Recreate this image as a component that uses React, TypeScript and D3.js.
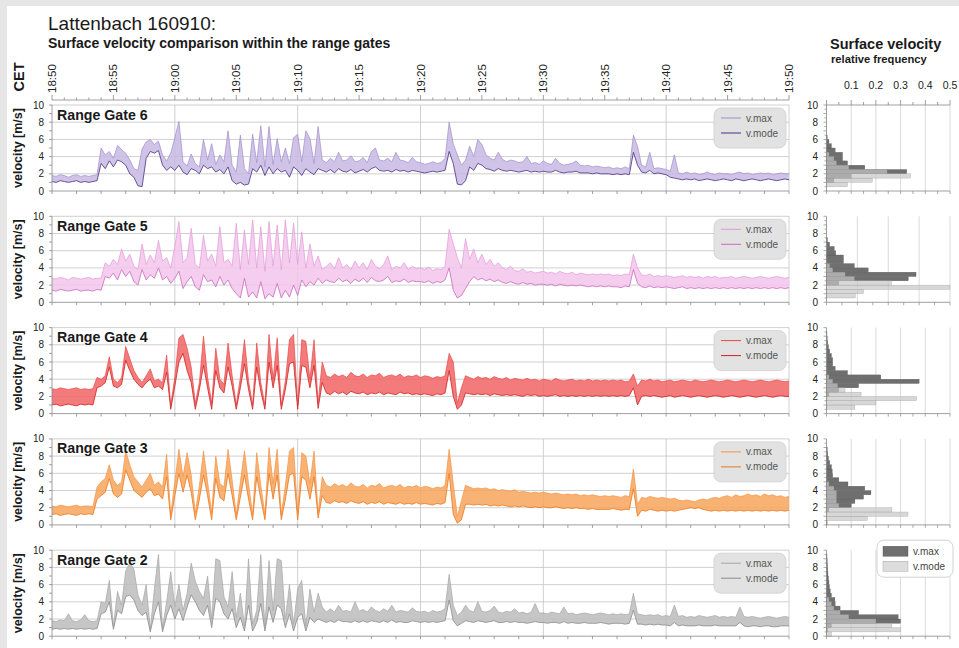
import * as d3 from 'd3';

// sample spacing of the time series: 20 s
const STEP_MIN = 1 / 3;

const TIME_LABELS = ['18:50', '18:55', '19:00', '19:05', '19:10', '19:15', '19:20', '19:25', '19:30', '19:35', '19:40', '19:45', '19:50'];
const TIME_TICKS = [0, 5, 10, 15, 20, 25, 30, 35, 40, 45, 50, 55, 60];
const V_TICKS = [0, 2, 4, 6, 8, 10];
const HIST_TICKS = [0.1, 0.2, 0.3, 0.4, 0.5];

// Range Gate 6
const G6_MAX = [
  1.8,1.7,1.9, 1.8,1.6,1.8, 1.9,1.7,1.8, 1.7,1.8,1.9, 5.0,4.2,4.6,
  3.8,5.3,4.8, 4.4,3.6,2.6, 2.4,4.9,5.7, 6.0,5.4,5.8, 4.2,3.5,4.4,
  6.2,8.1,3.4, 2.9,4.3,3.2, 2.8,6.0,3.6, 5.5,3.1,4.2, 3.4,7.0,3.0,
  2.2,6.5,2.6, 2.0,6.6,3.3, 7.6,2.8,7.5, 3.1,6.1,3.4, 5.0,3.2,6.2,
  6.6,3.4,7.0, 6.1,3.2,7.5, 3.6,3.3,3.8, 3.4,4.5,3.5, 3.6,4.1,3.4,
  3.5,3.9,3.3, 4.6,5.0,3.6, 3.5,3.8,3.4, 4.5,3.6,3.5, 3.3,3.9,3.4,
  3.3,3.1,3.2, 3.4,3.2,3.3, 3.8,8.0,5.5, 4.2,3.0,3.6, 5.2,4.0,6.0,
  5.4,4.2,3.8, 3.6,4.5,3.7, 3.4,3.6,3.5, 3.3,3.4,4.0, 3.2,3.3,3.1,
  3.5,3.2,3.1, 3.8,3.2,3.0, 3.1,3.2,3.5, 3.0,2.9,3.0, 2.8,2.9,2.8,
  2.7,2.8,2.6, 2.7,2.6,2.8, 2.6,6.5,5.2, 3.0,2.8,4.5, 2.6,2.7,2.6,
  2.5,2.3,4.2, 2.1,2.0,2.2, 2.0,2.1,1.9, 2.0,2.2,2.0, 1.9,2.1,2.0,
  2.0,1.9,2.1, 2.2,2.0,2.1, 1.9,2.0,2.1, 2.0,2.1,1.9, 2.0,2.1,2.0,
  2.0,
];
const G6_MODE = [
  1.1,1.0,1.2, 1.1,1.0,1.1, 1.2,1.0,1.1, 1.0,1.1,1.2, 3.2,2.6,3.5,
  2.8,3.6,3.4, 3.0,2.0,1.6, 0.6,0.5,3.8, 4.6,4.4,4.7, 3.0,2.4,2.8,
  2.4,3.0,2.2, 1.9,2.6,2.4, 2.0,3.0,2.6, 2.8,2.2,2.5, 2.0,2.8,1.2,
  0.8,1.0,0.7, 0.8,2.6,2.2, 3.0,1.8,2.8, 2.0,2.6,2.2, 2.4,1.6,2.8,
  2.4,1.8,2.6, 2.2,1.9,2.6, 2.4,2.2,2.5, 2.1,2.6,2.3, 2.2,2.5,2.1,
  2.3,2.5,2.2, 2.6,2.8,2.4, 2.3,2.4,2.2, 2.5,2.3,2.4, 2.2,2.4,2.3,
  2.2,2.1,2.2, 2.3,2.2,2.3, 2.4,4.6,3.2, 0.8,0.7,1.2, 2.8,2.4,3.2,
  3.0,2.6,2.5, 2.3,2.6,2.4, 2.3,2.4,2.3, 2.2,2.3,2.4, 2.2,2.3,2.2,
  2.3,2.2,2.2, 2.4,2.2,2.1, 2.2,2.2,2.3, 2.1,2.1,2.1, 2.0,2.1,2.0,
  2.0,2.0,1.9, 2.0,1.9,2.0, 1.9,4.5,3.0, 2.2,2.1,2.4, 2.0,2.1,2.0,
  1.9,1.6,1.5, 1.4,1.3,1.4, 1.3,1.4,1.2, 1.3,1.4,1.3, 1.2,1.3,1.4,
  1.3,1.2,1.4, 1.3,1.2,1.3, 1.4,1.3,1.2, 1.3,1.4,1.3, 1.2,1.3,1.4,
  1.3,
];

// Range Gate 5
const G5_MAX = [
  2.8,2.7,2.9, 2.8,2.6,2.9, 2.8,2.7,2.8, 2.9,2.7,2.8, 2.8,4.6,4.2,
  5.0,4.4,6.2, 4.8,5.6,4.2, 3.8,6.8,4.4, 5.5,4.6,7.2, 4.8,5.2,4.0,
  6.5,9.4,4.6, 5.2,8.6,4.4, 4.0,7.8,4.8, 5.6,4.2,8.8, 4.6,5.0,4.2,
  9.2,3.8,8.4, 4.4,9.6,4.0, 8.8,3.6,9.4, 4.2,9.0,3.8, 9.6,4.6,9.2,
  4.4,8.2,4.0, 6.8,4.2,5.4, 3.8,4.2,4.6, 3.9,5.2,4.0, 4.4,3.8,4.8,
  4.0,4.6,3.8, 5.0,4.2,3.9, 4.4,5.4,3.8, 4.2,4.0,4.6, 3.8,4.2,3.9,
  4.0,3.8,4.1, 3.7,3.9,3.8, 4.2,8.5,6.8, 5.2,4.0,7.4, 5.0,6.2,4.6,
  5.6,4.4,5.0, 4.2,4.6,4.0, 3.8,4.2,3.7, 3.6,3.9,3.5, 3.6,3.4,3.5,
  3.6,3.4,3.5, 3.3,3.6,3.4, 3.3,3.5,3.2, 3.4,3.3,3.2, 3.3,3.2,3.3,
  3.2,3.3,3.1, 3.2,3.1,3.3, 3.2,5.6,4.0, 3.2,3.1,3.3, 3.0,3.1,3.0,
  3.1,3.0,2.9, 3.0,3.1,2.9, 3.0,2.9,3.0, 2.8,3.0,2.9, 3.0,2.8,2.9,
  2.9,3.0,2.8, 2.9,3.0,2.9, 2.8,2.9,3.0, 2.9,2.8,2.9, 3.0,2.9,2.8,
  2.9,
];
const G5_MODE = [
  1.4,1.3,1.5, 1.4,1.3,1.4, 1.5,1.3,1.4, 1.4,1.3,1.5, 1.4,3.0,2.8,
  3.4,2.6,3.8, 3.0,3.6,2.4, 2.0,3.8,2.6, 3.2,2.8,4.0, 2.6,3.0,2.2,
  2.8,3.6,1.6, 2.4,3.0,1.8, 1.4,3.2,2.4, 2.6,1.8,3.0, 2.0,2.6,1.6,
  1.0,0.5,2.8, 0.6,1.2,0.5, 2.4,0.4,1.0, 0.6,2.2,0.5, 1.4,0.6,2.0,
  0.8,2.6,1.8, 2.4,2.0,2.8, 2.2,2.6,2.4, 2.3,2.8,2.4, 2.6,2.2,2.7,
  2.4,2.8,2.3, 2.9,2.5,2.4, 2.6,3.0,2.3, 2.5,2.4,2.7, 2.3,2.5,2.4,
  2.4,2.3,2.5, 2.2,2.4,2.3, 2.6,4.0,1.4, 0.5,0.8,1.6, 2.4,3.0,2.6,
  2.8,2.5,2.7, 2.4,2.6,2.3, 2.2,2.4,2.2, 2.1,2.3,2.1, 2.2,2.0,2.1,
  2.1,2.0,2.1, 1.9,2.1,2.0, 1.9,2.0,1.9, 2.0,1.9,1.8, 1.9,1.8,1.9,
  1.8,1.9,1.8, 1.8,1.7,1.9, 1.8,3.8,2.2, 1.8,1.7,1.9, 1.7,1.8,1.7,
  1.8,1.7,1.6, 1.7,1.8,1.6, 1.7,1.6,1.7, 1.6,1.7,1.6, 1.7,1.6,1.7,
  1.6,1.7,1.6, 1.7,1.6,1.7, 1.6,1.7,1.6, 1.7,1.6,1.7, 1.6,1.7,1.6,
  1.7,
];

// Range Gate 4
const G4_MAX = [
  2.9,2.8,3.0, 2.9,2.8,2.9, 3.0,2.8,2.9, 2.8,2.9,4.2, 4.0,4.4,6.6,
  4.0,3.6,4.2, 7.8,6.4,5.0, 4.2,3.6,4.4, 5.2,3.8,4.0, 3.6,6.8,1.0,
  4.2,8.8,9.2, 7.6,5.4,1.2, 3.6,9.0,4.2, 1.2,7.6,4.0, 3.4,8.2,4.4,
  1.0,4.2,8.6, 3.8,1.0,8.2, 3.6,1.0,9.2, 4.0,8.8,1.0, 3.8,8.6,9.2,
  1.0,8.6,8.4, 4.0,8.6,1.2, 6.0,4.4,4.2, 4.6,4.3,4.5, 4.2,4.8,4.4,
  4.3,4.6,4.2, 4.5,4.4,4.7, 4.2,4.4,4.5, 4.3,4.6,4.2, 4.4,4.3,4.5,
  4.2,4.4,4.3, 4.1,4.3,4.2, 4.4,7.0,6.0, 1.2,3.0,4.4, 4.2,4.0,4.3,
  4.1,4.2,4.0, 4.3,4.1,4.0, 4.2,3.9,4.1, 4.0,3.9,4.1, 3.9,4.0,3.8,
  4.0,3.9,3.8, 4.1,3.9,3.8, 3.9,4.0,3.8, 3.9,3.8,4.0, 3.8,3.9,3.8,
  3.9,3.8,3.9, 3.8,3.9,3.7, 3.8,4.6,3.2, 3.9,3.8,4.0, 3.8,3.9,3.7,
  3.8,3.9,3.7, 3.8,3.9,3.8, 3.7,3.9,3.8, 3.7,3.8,3.9, 3.8,3.7,3.8,
  3.9,3.8,3.7, 3.8,3.9,3.8, 3.7,3.8,3.9, 3.8,3.7,3.8, 3.9,3.8,3.7,
  3.8,
];
const G4_MODE = [
  1.0,1.1,0.9, 1.0,1.1,1.0, 0.9,1.1,1.0, 1.1,1.0,3.0, 3.2,3.6,5.4,
  3.2,3.0,3.4, 6.2,5.0,4.0, 3.4,3.0,3.6, 4.0,3.0,3.2, 2.8,4.8,0.5,
  3.2,6.0,7.0, 5.0,3.6,0.5, 2.8,5.6,3.0, 0.5,5.0,3.0, 2.4,5.4,3.2,
  0.5,3.0,5.8, 2.8,0.5,5.4, 2.6,0.5,6.0, 3.0,5.6,0.5, 2.8,5.8,6.0,
  0.5,5.6,5.4, 3.0,5.6,0.6, 3.6,2.4,2.2, 2.6,2.3,2.5, 2.2,2.6,2.4,
  2.3,2.5,2.2, 2.4,2.3,2.5, 2.2,2.4,2.3, 2.2,2.5,2.3, 2.4,2.2,2.3,
  2.2,2.3,2.2, 2.1,2.3,2.2, 2.4,5.0,2.0, 0.5,1.0,2.4, 2.3,2.2,2.3,
  2.2,2.3,2.1, 2.3,2.2,2.1, 2.2,2.1,2.2, 2.1,2.0,2.2, 2.1,2.2,2.0,
  2.1,2.0,2.1, 2.2,2.0,2.1, 2.0,2.1,2.0, 2.1,2.0,2.1, 2.0,2.1,2.0,
  2.1,2.0,2.1, 2.0,2.1,2.0, 2.1,3.0,1.0, 2.0,2.1,2.0, 2.1,2.0,1.9,
  2.0,2.1,1.9, 2.0,2.1,2.0, 1.9,2.0,2.1, 2.0,1.9,2.0, 2.1,2.0,1.9,
  2.0,2.1,2.0, 1.9,2.0,2.1, 2.0,1.9,2.0, 2.1,2.0,1.9, 2.0,2.1,2.0,
  2.0,
];

// Range Gate 3
const G3_MAX = [
  2.2,2.1,2.3, 2.2,2.1,2.2, 2.3,2.1,2.2, 2.2,2.1,4.4, 5.0,5.4,7.0,
  5.2,4.6,5.0, 8.6,7.0,5.6, 5.0,4.4,5.2, 6.0,4.6,5.0, 4.4,8.2,1.2,
  5.0,8.8,5.6, 8.4,5.8,1.4, 4.6,8.6,5.0, 1.4,8.0,4.8, 4.4,8.8,5.2,
  1.2,5.0,8.6, 4.8,1.2,8.4, 4.6,1.2,9.0, 4.8,8.8,1.2, 4.6,8.6,9.0,
  1.4,8.4,8.0, 4.8,8.6,1.4, 5.6,4.6,4.4, 4.8,4.5,4.7, 4.4,4.9,4.5,
  4.4,4.7,4.3, 4.6,4.5,4.8, 4.3,4.5,4.6, 4.4,4.7,4.3, 4.5,4.4,4.6,
  4.3,4.5,4.4, 4.2,4.4,4.3, 4.6,8.8,4.8, 1.0,2.8,4.6, 4.4,4.2,4.3,
  4.2,4.3,4.1, 4.2,4.0,4.1, 4.0,3.9,4.1, 3.8,3.9,3.8, 3.7,3.8,3.7,
  3.8,3.7,3.6, 3.7,3.6,3.5, 3.6,3.5,3.6, 3.4,3.5,3.4, 3.5,3.4,3.3,
  3.4,3.3,3.4, 3.3,3.2,3.4, 3.3,6.5,2.4, 3.2,3.1,3.3, 3.2,3.1,3.2,
  3.1,3.0,3.1, 2.9,2.8,2.9, 2.8,2.7,2.9, 3.0,2.9,3.1, 3.2,3.1,3.3,
  3.4,3.2,3.5, 3.3,3.4,3.6, 3.4,3.5,3.3, 3.6,3.4,3.5, 3.3,3.4,3.2,
  3.3,
];
const G3_MODE = [
  1.2,1.3,1.1, 1.2,1.3,1.2, 1.1,1.3,1.2, 1.3,1.2,3.0, 3.4,3.8,5.4,
  3.6,3.2,3.6, 6.4,5.2,4.0, 3.6,3.2,3.8, 4.2,3.4,3.6, 3.0,5.6,0.6,
  3.4,6.0,3.8, 5.8,3.8,0.6, 3.0,5.8,3.4, 0.6,5.4,3.2, 2.8,6.0,3.4,
  0.6,3.2,5.8, 3.0,0.6,5.6, 3.0,0.6,6.0, 3.0,5.8,0.6, 3.0,5.8,6.0,
  0.6,5.6,5.2, 3.0,5.6,0.8, 3.4,2.6,2.5, 2.8,2.6,2.7, 2.5,2.8,2.6,
  2.5,2.7,2.4, 2.6,2.5,2.7, 2.4,2.6,2.5, 2.4,2.6,2.4, 2.5,2.4,2.6,
  2.4,2.5,2.4, 2.3,2.5,2.4, 2.6,6.0,1.2, 0.2,0.6,2.4, 2.4,2.3,2.4,
  2.3,2.4,2.2, 2.3,2.2,2.3, 2.2,2.1,2.2, 2.1,2.2,2.1, 2.0,2.1,2.0,
  2.1,2.0,2.0, 2.1,2.0,1.9, 2.0,1.9,2.0, 1.9,1.9,1.8, 1.9,1.8,1.8,
  1.8,1.8,1.9, 1.8,1.7,1.8, 1.8,4.2,1.0, 1.7,1.6,1.8, 1.7,1.6,1.7,
  1.6,1.7,1.6, 1.7,1.8,1.9, 2.0,1.9,2.0, 1.8,1.7,1.6, 1.7,1.6,1.7,
  1.6,1.7,1.6, 1.7,1.6,1.7, 1.6,1.7,1.6, 1.7,1.6,1.7, 1.6,1.7,1.6,
  1.7,
];

// Range Gate 2
const G2_MAX = [
  1.8,1.7,1.9, 1.8,2.6,1.8, 1.7,1.9,2.5, 1.8,1.7,1.8, 4.0,3.8,6.5,
  1.2,5.2,3.6, 7.6,8.5,7.8, 4.8,3.6,6.0, 0.8,5.5,9.5, 1.0,4.0,7.5,
  3.4,6.0,3.0, 5.0,8.5,6.4, 5.2,4.4,7.0, 2.0,9.0,8.8, 4.6,3.4,7.5,
  2.2,5.0,1.2, 9.0,1.4,3.0, 9.5,1.2,8.8, 3.0,9.0,8.8, 2.0,6.0,1.4,
  5.5,6.5,1.2, 5.5,2.8,5.0, 3.4,2.8,3.2, 2.8,3.6,2.9, 3.0,2.8,4.0,
  2.9,3.1,2.8, 3.4,3.0,2.8, 3.2,2.9,3.6, 2.8,3.0,2.9, 2.8,3.3,2.9,
  2.8,2.9,2.7, 3.0,2.8,2.9, 3.2,7.2,3.6, 2.4,2.8,3.6, 3.0,2.8,4.0,
  2.9,2.8,3.0, 3.5,2.8,2.7, 2.9,2.8,3.2, 2.7,2.8,2.6, 2.8,3.8,2.7,
  2.7,2.6,2.8, 2.7,2.6,3.4, 2.6,2.7,2.5, 2.6,2.7,2.6, 2.5,2.6,2.7,
  2.6,2.5,2.6, 2.5,2.6,2.5, 2.6,5.0,2.6, 2.5,2.4,2.5, 2.4,2.5,2.3,
  2.4,2.3,3.6, 2.3,2.4,2.2, 2.3,2.2,2.4, 2.3,2.2,2.3, 2.4,2.2,2.3,
  2.2,2.3,2.2, 3.4,2.3,2.2, 2.3,2.2,2.1, 2.2,2.3,2.2, 2.1,2.2,2.3,
  2.2,
];
const G2_MODE = [
  0.8,0.9,0.8, 0.9,0.8,0.9, 0.8,0.9,0.8, 0.9,0.8,0.9, 2.6,2.8,4.0,
  0.8,3.0,2.6, 4.6,4.8,4.2, 3.0,2.4,2.8, 0.5,2.6,4.0, 0.5,2.4,3.6,
  2.0,3.2,1.8, 3.4,4.8,4.0, 3.0,2.4,3.6, 1.0,4.4,4.0, 2.6,2.0,3.2,
  1.0,2.2,0.6, 3.6,0.6,1.6, 3.8,0.6,3.4, 1.6,3.6,3.2, 1.0,2.6,0.6,
  2.2,2.6,0.6, 2.2,1.6,2.0, 1.8,1.6,1.8, 1.6,1.9,1.7, 1.7,1.6,1.8,
  1.6,1.8,1.6, 1.8,1.7,1.6, 1.8,1.6,1.9, 1.6,1.7,1.6, 1.6,1.8,1.7,
  1.6,1.7,1.6, 1.7,1.6,1.7, 1.8,4.2,1.8, 1.2,1.5,1.8, 1.7,1.6,1.8,
  1.7,1.6,1.7, 1.8,1.6,1.6, 1.7,1.6,1.7, 1.6,1.6,1.5, 1.6,1.7,1.6,
  1.6,1.5,1.6, 1.6,1.5,1.7, 1.5,1.6,1.5, 1.5,1.6,1.5, 1.5,1.5,1.6,
  1.5,1.4,1.5, 1.5,1.5,1.4, 1.5,3.0,1.4, 1.4,1.3,1.4, 1.3,1.4,1.3,
  1.3,1.2,1.6, 1.2,1.3,1.2, 1.2,1.2,1.3, 1.2,1.2,1.2, 1.3,1.2,1.2,
  1.2,1.2,1.2, 1.6,1.2,1.1, 1.2,1.2,1.1, 1.2,1.2,1.1, 1.1,1.2,1.2,
  1.2,
];

// relative frequency per 0.5 m/s bin (0-0.5, 0.5-1, ... 9.5-10)
const H6_MAX = [0, 0, 0.03, 0.1, 0.325, 0.155, 0.085, 0.065, 0.065, 0.035, 0.02, 0.01, 0.003, 0, 0, 0, 0, 0, 0, 0];
const H6_MODE = [0, 0.085, 0.185, 0.34, 0.245, 0.09, 0.04, 0.03, 0.01, 0, 0, 0, 0, 0, 0, 0, 0, 0, 0, 0];
const H5_MAX = [0, 0, 0, 0, 0.04, 0.265, 0.29, 0.135, 0.09, 0.055, 0.055, 0.03, 0.025, 0.01, 0.003, 0, 0, 0, 0, 0];
const H5_MODE = [0, 0.093, 0.12, 0.4, 0.21, 0.09, 0.06, 0.02, 0.01, 0, 0, 0, 0, 0, 0, 0, 0, 0, 0, 0];
const H4_MAX = [0, 0, 0, 0, 0.01, 0.05, 0.13, 0.375, 0.22, 0.085, 0.035, 0.025, 0.025, 0.02, 0.013, 0.008, 0.005, 0.003, 0.002, 0];
const H4_MODE = [0, 0.115, 0.2, 0.365, 0.14, 0.075, 0.045, 0.025, 0.01, 0, 0, 0, 0, 0, 0, 0, 0, 0, 0, 0];
const H3_MAX = [0, 0, 0, 0.01, 0.1, 0.115, 0.15, 0.18, 0.155, 0.087, 0.05, 0.025, 0.023, 0.02, 0.013, 0.008, 0.005, 0.003, 0, 0];
const H3_MODE = [0.005, 0.165, 0.33, 0.265, 0.05, 0.04, 0.04, 0.04, 0.03, 0.01, 0, 0, 0, 0, 0, 0, 0, 0, 0, 0];
const H2_MAX = [0, 0.005, 0.02, 0.3, 0.29, 0.13, 0.055, 0.035, 0.034, 0.02, 0.015, 0.012, 0.01, 0.008, 0.006, 0.005, 0.004, 0.003, 0.002, 0];
const H2_MODE = [0.02, 0.3, 0.265, 0.2, 0.09, 0.055, 0.03, 0.02, 0.01, 0, 0, 0, 0, 0, 0, 0, 0, 0, 0, 0];

const BIN = 0.5;

const GATES = [
  { name: 'Range Gate 6', vmax: G6_MAX, vmode: G6_MODE, hmax: H6_MAX, hmode: H6_MODE, hTop: 0.5, fill: '#c8b9e4', cMax: '#a08dca', cMode: '#4a2f82' },
  { name: 'Range Gate 5', vmax: G5_MAX, vmode: G5_MODE, hmax: H5_MAX, hmode: H5_MODE, hTop: 0.4, fill: '#f2c4ec', cMax: '#e29ad8', cMode: '#cc68bd' },
  { name: 'Range Gate 4', vmax: G4_MAX, vmode: G4_MODE, hmax: H4_MAX, hmode: H4_MODE, hTop: 0.5, fill: '#f26464', cMax: '#e84646', cMode: '#d21f1f' },
  { name: 'Range Gate 3', vmax: G3_MAX, vmode: G3_MODE, hmax: H3_MAX, hmode: H3_MODE, hTop: 0.5, fill: '#f7a65c', cMax: '#f59242', cMode: '#ec761a' },
  { name: 'Range Gate 2', vmax: G2_MAX, vmode: G2_MODE, hmax: H2_MAX, hmode: H2_MODE, hTop: 0.5, fill: '#bcbcbc', cMax: '#a6a6a6', cMode: '#8a8a8a' },
];

const FONT = 'Liberation Sans, Arial, sans-serif';
const X0 = 52, X1 = 789;
const HX0 = 826.5, HX1 = 950;
const PANEL_TOP = 105, PANEL_H = 86, PANEL_STEP = 111.3;
const GRID = '#c4c4c4';

export default function App() {
  const x = d3.scaleLinear().domain([0, 60]).range([X0, X1]);
  const hxTop = d3.scaleLinear().domain([0, 0.5]).range([HX0, HX1]);
  const minutes = d3.range(0, 61, 1);

  return (
    <svg width={959} height={648} style={{ position: 'absolute', left: 0, top: 0, fontFamily: FONT }}>
      <rect width={959} height={648} fill="#e6e6e6" />
      <rect x={7} y={6} width={952} height={642} fill="#ffffff" />

      <text x={48} y={30} fontSize={19} fill="#1a1a1a">Lattenbach 160910:</text>
      <text x={48} y={48} fontSize={14} fontWeight="bold" fill="#1a1a1a">Surface velocity comparison within the range gates</text>
      <text x={830} y={49} fontSize={14.5} fontWeight="bold" fill="#1a1a1a">Surface velocity</text>
      <text x={831} y={63} fontSize={11.2} fontWeight="bold" fill="#1a1a1a">relative frequency</text>
      <text transform="translate(24,77) rotate(-90)" textAnchor="middle" fontSize={14.5} fontWeight="bold" fill="#1a1a1a">CET</text>

      {/* time axis on top */}
      {TIME_TICKS.map((t, i) => (
        <text key={t} transform={`translate(${x(t) + 4},93) rotate(-90)`} fontSize={11.5} fill="#222">{TIME_LABELS[i]}</text>
      ))}
      <line x1={X0} x2={X1} y1={100} y2={100} stroke="#888" strokeWidth={0.8} />
      {minutes.map(m => (
        <line key={m} x1={x(m)} x2={x(m)} y1={m % 5 === 0 ? 95 : 97.5} y2={100} stroke="#888" strokeWidth={0.8} />
      ))}

      {/* histogram top axis labels */}
      {HIST_TICKS.map(v => (
        <text key={v} x={hxTop(v)} y={89} textAnchor="middle" fontSize={10.5} fill="#222">{v}</text>
      ))}

      {GATES.map((g, k) => {
        const top = PANEL_TOP + k * PANEL_STEP;
        const y = d3.scaleLinear().domain([0, 10]).range([top + PANEL_H, top]);
        const hx = d3.scaleLinear().domain([0, g.hTop]).range([HX0, HX1]);
        const pts = g.vmax.map((v, i) => ({ t: i * STEP_MIN, hi: v, lo: g.vmode[i] }));
        const area = d3.area<typeof pts[0]>().x(d => x(d.t)).y0(d => y(d.lo)).y1(d => y(d.hi));
        const lineHi = d3.line<typeof pts[0]>().x(d => x(d.t)).y(d => y(d.hi));
        const lineLo = d3.line<typeof pts[0]>().x(d => x(d.t)).y(d => y(d.lo));
        const y0 = y(0);
        const hGrid = d3.range(0.1, g.hTop + 0.001, 0.1);
        const hMinor = d3.range(0, g.hTop + 0.001, 0.05);
        const cy = (top + y0) / 2;
        return (
          <g key={g.name}>
            {/* grid */}
            {V_TICKS.filter(v => v > 0).map(v => (
              <line key={'h' + v} x1={X0} x2={X1} y1={y(v)} y2={y(v)} stroke={GRID} strokeWidth={0.8} />
            ))}
            {[10, 20, 30, 40, 50, 60].map(t => (
              <line key={'v' + t} x1={x(t)} x2={x(t)} y1={y(10)} y2={y0} stroke={GRID} strokeWidth={0.8} />
            ))}

            {/* band and lines */}
            <path d={area(pts) || ''} fill={g.fill} opacity={0.85} />
            <path d={lineHi(pts) || ''} fill="none" stroke={g.cMax} strokeWidth={0.7} />
            <path d={lineLo(pts) || ''} fill="none" stroke={g.cMode} strokeWidth={0.8} />

            {/* axes */}
            <line x1={X0} x2={X0} y1={y(10)} y2={y0} stroke="#888" strokeWidth={0.8} />
            {d3.range(0, 11, 1).map(v => (
              <line key={'yt' + v} x1={X0 - 3} x2={X0} y1={y(v)} y2={y(v)} stroke="#888" strokeWidth={0.8} />
            ))}
            <line x1={X0} x2={X1} y1={y0} y2={y0} stroke="#888" strokeWidth={0.8} />
            {d3.range(0, 61, 2).map(t => (
              <line key={'xt' + t} x1={x(t)} x2={x(t)} y1={y0} y2={y0 + 3} stroke="#888" strokeWidth={0.8} />
            ))}
            {V_TICKS.map(v => (
              <text key={'yl' + v} x={44} y={y(v) + 3.5} textAnchor="end" fontSize={10} fill="#222">{v}</text>
            ))}
            <text transform={`translate(22,${cy}) rotate(-90)`} textAnchor="middle" fontSize={12.5} fontWeight="bold" fill="#1a1a1a">velocity [m/s]</text>
            <text x={57} y={top + 14.5} fontSize={14.2} fontWeight="bold" fill="#1a1a1a">{g.name}</text>

            {/* legend */}
            <rect x={714} y={top + 3} width={72} height={40} rx={7} fill="#e2e2e2" stroke="#cfcfcf" strokeWidth={0.8} />
            <line x1={721} x2={741} y1={top + 13} y2={top + 13} stroke={g.cMax} strokeWidth={1} />
            <text x={746} y={top + 16.5} fontSize={10} fill="#555">v.max</text>
            <line x1={721} x2={741} y1={top + 28} y2={top + 28} stroke={g.cMode} strokeWidth={1} />
            <text x={746} y={top + 31.5} fontSize={10} fill="#555">v.mode</text>

            {/* histogram */}
            {hGrid.map(v => (
              <line key={'hg' + v} x1={hx(v)} x2={hx(v)} y1={y(10)} y2={y0} stroke="#d2d2d2" strokeWidth={0.8} />
            ))}
            {g.hmax.map((f, i) => f > 0 && (
              <rect key={'hm' + i} x={HX0} width={hx(f) - HX0} y={y((i + 1) * BIN)} height={y(i * BIN) - y((i + 1) * BIN)}
                fill="#6f6f6f" stroke="#555" strokeWidth={0.3} />
            ))}
            {g.hmode.map((f, i) => f > 0 && (
              <rect key={'hd' + i} x={HX0} width={hx(f) - HX0} y={y((i + 1) * BIN)} height={y(i * BIN) - y((i + 1) * BIN)}
                fill="#c6c6c6" fillOpacity={0.7} stroke="#9a9a9a" strokeWidth={0.3} />
            ))}
            <line x1={HX0} x2={HX0} y1={y(10)} y2={y0} stroke="#888" strokeWidth={0.8} />
            {d3.range(0, 10.01, 0.5).map(v => (
              <line key={'hyt' + v} x1={HX0 - (v % 1 === 0 ? 3 : 2)} x2={HX0} y1={y(v)} y2={y(v)} stroke="#888" strokeWidth={0.7} />
            ))}
            <line x1={HX0} x2={HX1} y1={y0} y2={y0} stroke="#888" strokeWidth={0.8} />
            {hMinor.map(v => (
              <line key={'hxt' + v} x1={hx(v)} x2={hx(v)} y1={y0} y2={y0 + 3} stroke="#888" strokeWidth={0.7} />
            ))}
            {V_TICKS.map(v => (
              <text key={'hyl' + v} x={818} y={y(v) + 3.5} textAnchor="end" fontSize={10} fill="#222">{v}</text>
            ))}
            {k === 0 && (
              <g>
                <line x1={HX0} x2={HX1} y1={y(10)} y2={y(10)} stroke="#888" strokeWidth={0.8} />
                {hMinor.map(v => (
                  <line key={'htt' + v} x1={hx(v)} x2={hx(v)} y1={y(10) - (Math.round(v * 100) % 10 === 0 ? 5 : 3)} y2={y(10)} stroke="#888" strokeWidth={0.8} />
                ))}
              </g>
            )}
            {k === GATES.length - 1 && (
              <g>
                <rect x={877} y={top - 10} width={76} height={37} rx={7} fill="#ffffff" stroke="#c8c8c8" strokeWidth={0.8} />
                <rect x={883} y={top - 4} width={25} height={10} fill="#6f6f6f" stroke="#555" strokeWidth={0.4} />
                <text x={913} y={top + 4.5} fontSize={10} fill="#444">v.max</text>
                <rect x={883} y={top + 11} width={25} height={10} fill="#dcdcdc" stroke="#9a9a9a" strokeWidth={0.4} />
                <text x={913} y={top + 19.5} fontSize={10} fill="#444">v.mode</text>
              </g>
            )}
          </g>
        );
      })}
    </svg>
  );
}
